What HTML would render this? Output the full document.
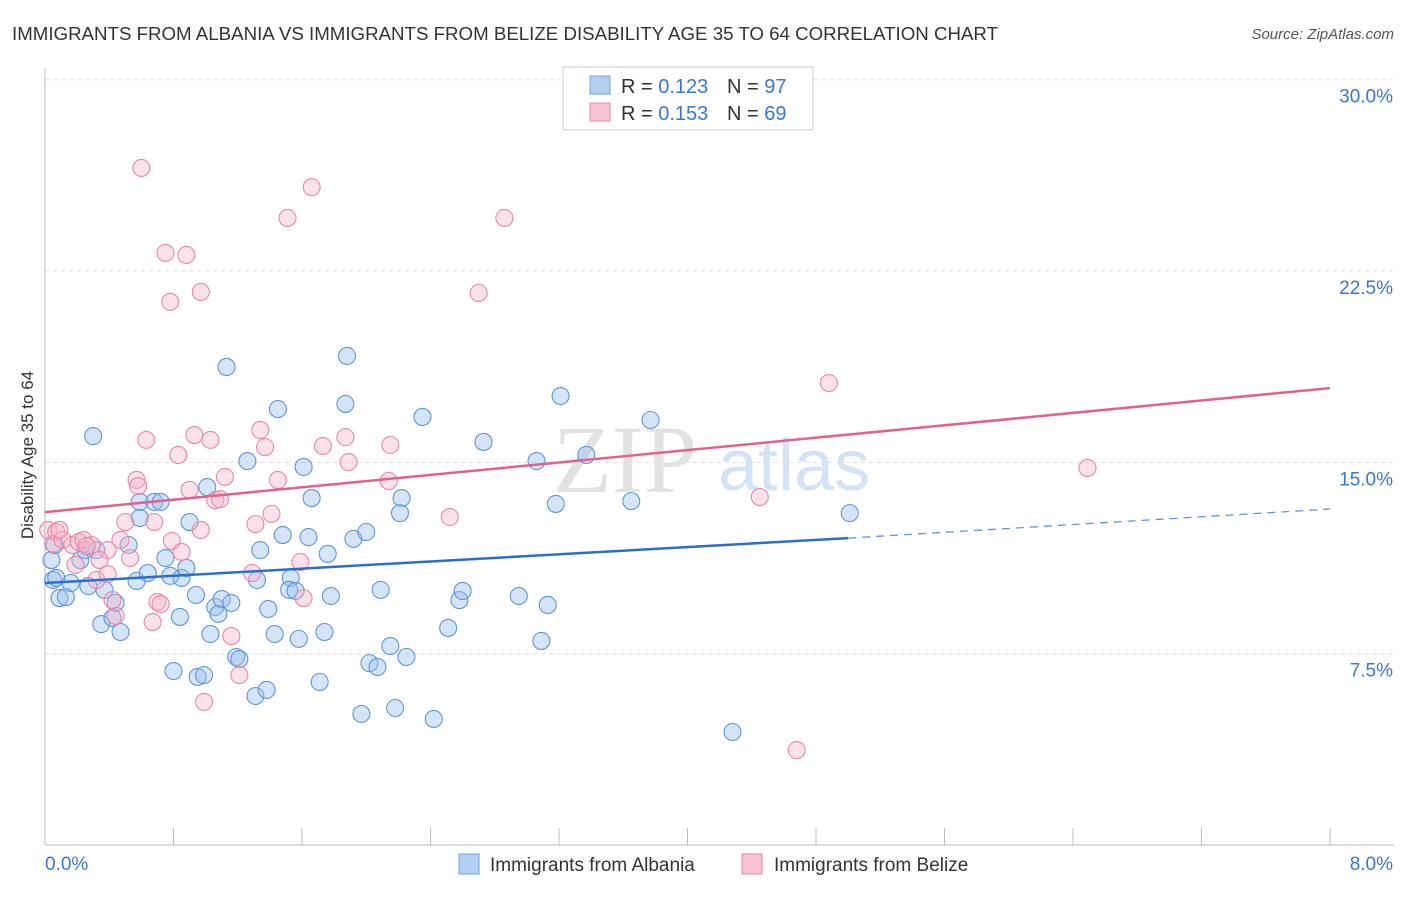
<!DOCTYPE html>
<html><head><meta charset="utf-8"><style>
body{margin:0;background:#fff;font-family:"Liberation Sans",sans-serif}
svg text{font-family:"Liberation Sans",sans-serif}
</style></head><body>
<svg id="chart" width="1406" height="892">
<text x="12" y="40" font-size="18" fill="#333" textLength="986" lengthAdjust="spacingAndGlyphs">IMMIGRANTS FROM ALBANIA VS IMMIGRANTS FROM BELIZE DISABILITY AGE 35 TO 64 CORRELATION CHART</text>
<text x="1394" y="39" font-size="15" fill="#555" font-style="italic" text-anchor="end">Source: ZipAtlas.com</text>
<g id="grid"></g>
<g id="axes"></g>
<text x="553" y="492" font-size="96" fill="#e2e2e2" style="font-family:'Liberation Serif',serif">ZIP</text>
<text x="718" y="490" font-size="72" fill="#d3e3f5">atlas</text>
<g id="points"></g>
<g id="lines"></g>
<text x="33" y="455" font-size="17" fill="#333" text-anchor="middle" transform="rotate(-90 33 455)">Disability Age 35 to 64</text>
<g>
<rect x="563" y="67" width="250" height="63" fill="#fff" stroke="#ccc"/>
<rect x="590" y="76" width="20" height="18" fill="#b3cff2" stroke="#6fa0e0"/>
<rect x="590" y="103" width="20" height="18" fill="#f7c3d3" stroke="#e88aa8"/>
<text x="621" y="93" font-size="20" fill="#333">R = <tspan fill="#3a78d0">0.123</tspan></text>
<text x="727" y="93" font-size="20" fill="#333">N = <tspan fill="#3a78d0">97</tspan></text>
<text x="621" y="120" font-size="20" fill="#333">R = <tspan fill="#3a78d0">0.153</tspan></text>
<text x="727" y="120" font-size="20" fill="#333">N = <tspan fill="#3a78d0">69</tspan></text>
</g>
<g>
<rect x="459" y="854" width="20" height="20" fill="#b3cff2" stroke="#6fa0e0"/>
<text x="490" y="871" font-size="19" fill="#333">Immigrants from Albania</text>
<rect x="742" y="854" width="20" height="20" fill="#f7c3d3" stroke="#e88aa8"/>
<text x="774" y="871" font-size="19" fill="#333">Immigrants from Belize</text>
</g>
</svg>
<script>
const albaniaX=[0.05,0.07,0.09,0.13,0.16,0.04,0.06,0.30,0.25,0.32,0.22,0.27,0.37,0.44,0.35,0.42,0.47,0.52,0.57,0.64,0.59,0.68,0.72,0.75,0.78,0.85,0.88,0.84,0.94,0.90,1.01,1.06,1.08,1.10,1.16,1.13,1.03,0.80,0.95,0.99,1.19,1.21,1.26,1.34,1.32,1.45,1.39,1.43,1.48,1.53,1.52,1.56,1.61,1.66,1.64,1.58,1.71,1.74,1.76,1.78,1.88,1.87,1.92,2.00,2.09,2.02,2.07,2.15,2.25,2.18,1.97,2.22,2.21,2.35,2.42,2.51,2.58,2.60,2.73,2.95,3.06,3.13,3.09,3.18,3.21,3.37,3.65,3.77,4.28,5.01,1.31,1.38,0.59];
const albaniaY=[10.39,10.47,9.68,9.72,10.27,11.17,11.76,16.03,11.56,11.56,11.17,10.15,10.00,9.49,8.66,8.90,8.35,11.76,10.35,10.66,13.45,13.45,13.45,11.25,10.55,10.47,10.86,8.94,9.80,12.66,14.03,9.33,9.06,9.64,9.49,18.74,8.27,6.82,6.59,6.66,7.37,7.29,15.05,11.56,10.39,17.09,9.25,8.27,12.15,10.47,10.00,9.96,14.82,13.60,12.07,8.08,6.39,8.35,11.41,9.76,19.17,17.29,12.00,12.27,10.00,7.13,6.98,7.80,7.37,5.37,5.14,13.60,13.01,16.78,4.94,8.51,9.60,9.96,15.80,9.76,15.05,9.41,8.00,13.37,17.60,15.29,13.48,16.66,4.43,13.01,5.84,6.08,12.82];
const belizeX=[0.02,0.05,0.07,0.11,0.17,0.21,0.24,0.29,0.39,0.34,0.32,0.39,0.44,0.47,0.50,0.53,0.57,0.58,0.60,0.63,0.68,0.70,0.72,0.67,0.75,0.78,0.79,0.83,0.85,0.88,0.90,0.93,0.97,0.97,1.03,1.06,1.09,1.12,1.16,1.21,0.99,1.29,1.31,1.34,1.37,1.41,1.45,1.51,1.59,1.61,1.66,1.73,1.87,1.89,2.14,2.15,2.52,2.70,2.86,4.45,4.68,4.88,6.49,0.26,0.42,0.09,0.19];
const belizeY=[12.35,11.80,12.27,11.96,11.76,11.88,11.96,11.76,11.56,11.17,10.39,10.62,8.98,11.96,12.66,11.25,14.31,14.07,26.54,15.88,12.66,9.53,9.45,8.74,23.21,21.29,11.92,15.29,11.49,23.13,13.92,16.07,21.68,12.35,15.88,13.52,13.56,14.43,8.19,6.66,5.61,10.66,12.58,16.27,15.60,12.98,14.31,24.58,11.09,9.68,25.79,15.64,15.99,15.01,14.27,15.68,12.86,21.64,24.58,13.64,3.72,18.11,14.78,11.72,9.60,12.35,10.98];
const albaniaTrend=[10.27,12.03,13.17]; const albaniaTrendX=[0,5.0,8];
const belizeTrend=[13.05,17.91]; const belizeTrendX=[0,8];
const yTicks=[7.5,15,22.5,30]; const yTickLabels=["7.5%","15.0%","22.5%","30.0%"];
const xTicks=[0,0.8,1.6,2.4,3.2,4.0,4.8,5.6,6.4,7.2,8.0];
const X0=45,X1=1330,Y0=845,PXY=25.51;
const sx=v=>X0+(X1-X0)*v/8, sy=v=>Y0-v*PXY;
const NS="http://www.w3.org/2000/svg";
function mk(tag,attrs,parent){const e=document.createElementNS(NS,tag);for(const k in attrs)e.setAttribute(k,attrs[k]);document.getElementById(parent).appendChild(e);return e;}
yTicks.forEach((t,i)=>{
 const l=mk('line',{x1:X0,x2:1394,y1:sy(t),y2:sy(t),stroke:'#ddd','stroke-dasharray':'4,4'},'grid');
 
 
 const tx=mk('text',{x:1393,y:sy(t)+23,'font-size':19,fill:'#3a78d0','text-anchor':'end'},'axes');
 tx.textContent=yTickLabels[i];
 
 
});
const ax=mk('line',{x1:X0,x2:1394,y1:Y0,y2:Y0,stroke:'#bbb'},'axes');


const ay=mk('line',{x1:X0,x2:X0,y1:68,y2:Y0,stroke:'#bbb'},'axes');


xTicks.forEach(t=>{const l=mk('line',{x1:sx(t),x2:sx(t),y1:Y0,y2:Y0-17,stroke:'#bbb'},'axes');
 
 });
const xl0=mk('text',{x:45,y:870,'font-size':19,fill:'#3a78d0'},'axes');xl0.textContent='0.0%';


const xl1=mk('text',{x:1393,y:870,'font-size':19,fill:'#3a78d0','text-anchor':'end'},'axes');xl1.textContent='8.0%';


albaniaX.forEach((x,i)=>{const c=mk('circle',{cx:sx(x),cy:sy(albaniaY[i]),r:8.5,fill:'rgba(150,190,240,0.4)',stroke:'#5f95db','stroke-width':1.1},'points');
 
 });
belizeX.forEach((x,i)=>{const c=mk('circle',{cx:sx(x),cy:sy(belizeY[i]),r:8.5,fill:'rgba(245,180,200,0.4)',stroke:'#e68aa8','stroke-width':1.1},'points');
 
 });
const b1=mk('line',{x1:sx(albaniaTrendX[0]),y1:sy(albaniaTrend[0]),x2:sx(albaniaTrendX[1]),y2:sy(albaniaTrend[1]),stroke:'#2a6fd0','stroke-width':2.5},'lines');


const b2=mk('line',{x1:sx(albaniaTrendX[1]),y1:sy(albaniaTrend[1]),x2:sx(albaniaTrendX[2]),y2:sy(albaniaTrend[2]),stroke:'#5f95db','stroke-width':1.3,'stroke-dasharray':'8,6'},'lines');


const p1=mk('line',{x1:sx(belizeTrendX[0]),y1:sy(belizeTrend[0]),x2:sx(belizeTrendX[1]),y2:sy(belizeTrend[1]),stroke:'#e4608e','stroke-width':2.5},'lines');


</script>
</body></html>
